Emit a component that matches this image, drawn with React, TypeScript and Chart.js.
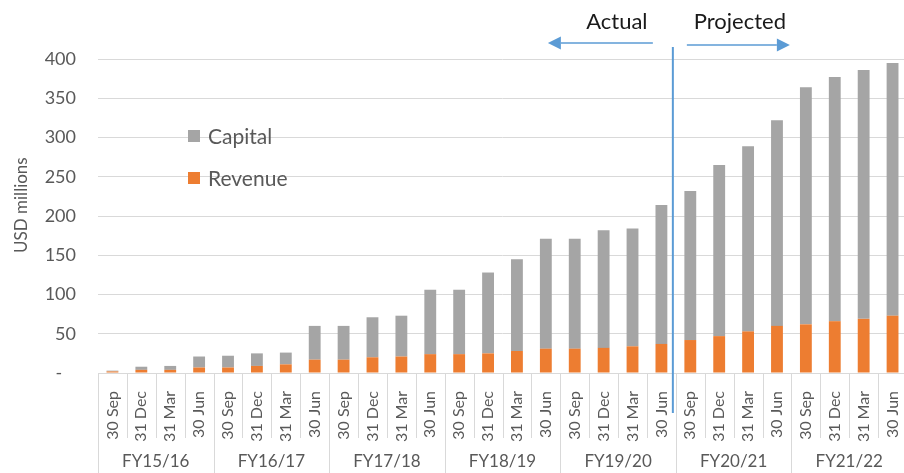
import React, { useEffect, useRef } from 'react';
import { Chart, registerables } from 'chart.js';

Chart.register(...registerables);

const quarters = ['30 Sep', '31 Dec', '31 Mar', '30 Jun'];
const fiscalYears = ['FY15/16', 'FY16/17', 'FY17/18', 'FY18/19', 'FY19/20', 'FY20/21', 'FY21/22'];
const categories = fiscalYears.flatMap(() => quarters);

const revenue = [2, 4, 4, 7, 7, 9, 11, 17, 17, 20, 21, 24, 24, 25, 28, 31, 31, 32, 34, 37, 42, 47, 53, 60, 62, 66, 69, 73];
const capital = [1, 4, 5, 14, 15, 16, 15, 43, 43, 51, 52, 82, 82, 103, 117, 140, 140, 150, 150, 177, 190, 218, 236, 262, 302, 311, 317, 322];

const yMin = 0;
const yMax = 400;
const yStep = 50;

const actualLabel = 'Actual';
const projectedLabel = 'Projected';
const lastActualIndex = 19;

const FONT = 'Lato, "Noto Sans", sans-serif';
const GREY = '#a5a5a5';
const ORANGE = '#ed7d31';
const BLUE = '#5b9bd5';
const TEXT = '#595959';
const GRID = '#d9d9d9';

const W = 907;
const H = 473;

export default function App() {
  const ref = useRef<HTMLCanvasElement>(null);

  useEffect(() => {
    const canvas = ref.current!;

    const overlay = {
      id: 'overlay',
      afterDatasetsDraw(chart: any) {
        const ctx = chart.ctx as CanvasRenderingContext2D;
        const xs = chart.scales.x;
        const area = chart.chartArea;
        const n = categories.length;
        const catW = (xs.right - xs.left) / n;
        ctx.save();

        // category separators
        ctx.strokeStyle = GRID;
        ctx.lineWidth = 1;
        for (let i = 0; i <= n; i++) {
          const x = Math.round(xs.left + i * catW) + 0.5;
          const long = i % quarters.length === 0;
          ctx.beginPath();
          ctx.moveTo(x, area.bottom);
          ctx.lineTo(x, long ? H : area.bottom + 65);
          ctx.stroke();
        }

        // fiscal year labels
        ctx.fillStyle = TEXT;
        ctx.font = `17px ${FONT}`;
        ctx.textAlign = 'center';
        ctx.textBaseline = 'middle';
        fiscalYears.forEach((fy, g) => {
          const cx = xs.left + (g * quarters.length + quarters.length / 2) * catW;
          ctx.fillText(fy, cx, area.bottom + 89);
        });

        // legend
        const legendItems = [
          { label: 'Capital', color: GREY },
          { label: 'Revenue', color: ORANGE },
        ];
        ctx.font = `21px ${FONT}`;
        ctx.textAlign = 'left';
        legendItems.forEach((it, k) => {
          const cy = area.top + 77 + k * 42;
          ctx.fillStyle = it.color;
          ctx.fillRect(area.left + 90, cy - 6, 12, 12);
          ctx.fillStyle = TEXT;
          ctx.fillText(it.label, area.left + 110, cy + 1);
        });

        // actual / projected divider
        const lineX = (xs.getPixelForValue(lastActualIndex) + xs.getPixelForValue(lastActualIndex + 1)) / 2 - 3;
        ctx.strokeStyle = BLUE;
        ctx.lineWidth = 2;
        ctx.beginPath();
        ctx.moveTo(lineX, area.top - 12);
        ctx.lineTo(lineX, area.bottom + 40);
        ctx.stroke();

        const arrow = (x0: number, x1: number, y: number) => {
          const dir = Math.sign(x1 - x0);
          const head = 13;
          ctx.strokeStyle = BLUE;
          ctx.fillStyle = BLUE;
          ctx.lineWidth = 1.5;
          ctx.beginPath();
          ctx.moveTo(x0, y);
          ctx.lineTo(x1 - dir * head, y);
          ctx.stroke();
          ctx.beginPath();
          ctx.moveTo(x1, y);
          ctx.lineTo(x1 - dir * head, y - 6.5);
          ctx.lineTo(x1 - dir * head, y + 6.5);
          ctx.closePath();
          ctx.fill();
        };
        arrow(lineX - 20, lineX - 125, area.top - 16);
        arrow(lineX + 14, lineX + 117, area.top - 14);

        ctx.fillStyle = '#1a1a1a';
        ctx.font = `22px ${FONT}`;
        ctx.textAlign = 'center';
        ctx.textBaseline = 'middle';
        ctx.fillText(actualLabel, lineX - 56, area.top - 37);
        ctx.fillText(projectedLabel, lineX + 67, area.top - 37);

        ctx.restore();
      },
    };

    const chart = new Chart(canvas, {
      type: 'bar',
      data: {
        labels: categories,
        datasets: [
          { label: 'Revenue', data: revenue, backgroundColor: ORANGE, stack: 's', barPercentage: 0.41, categoryPercentage: 1 },
          { label: 'Capital', data: capital, backgroundColor: GREY, stack: 's', barPercentage: 0.41, categoryPercentage: 1 },
        ],
      },
      options: {
        responsive: false,
        animation: false,
        layout: { padding: { top: 59, left: 0, right: 0, bottom: 0 } },
        plugins: {
          legend: { display: false },
          tooltip: { enabled: false },
        },
        scales: {
          x: {
            stacked: true,
            grid: { display: false },
            border: { display: true, color: GRID, width: 1 },
            ticks: {
              autoSkip: false,
              maxRotation: 90,
              minRotation: 90,
              padding: 10,
              color: TEXT,
              font: { family: FONT, size: 16 },
            },
            afterFit: (s: any) => { s.height = 100; s.paddingLeft = 0; s.paddingRight = 0; },
          },
          y: {
            stacked: true,
            min: yMin,
            max: yMax,
            border: { display: false },
            grid: { color: GRID, lineWidth: 1, drawTicks: false },
            ticks: {
              stepSize: yStep,
              padding: 22,
              color: TEXT,
              font: { family: FONT, size: 18 },
              callback: (v: any) => (Number(v) === 0 ? '-   ' : String(v)),
            },
            title: {
              display: true,
              text: '     USD millions',
              color: TEXT,
              font: { family: FONT, size: 17 },
              padding: { top: 11, bottom: 0 },
            },
            afterFit: (s: any) => { s.width = 98; s.paddingTop = 0; s.paddingBottom = 0; },
          },
        },
      },
      plugins: [overlay],
    });

    return () => chart.destroy();
  }, []);

  return (
    <div style={{ position: 'fixed', left: 0, top: 0, width: 904, height: 473, overflow: 'hidden', background: '#fff' }}>
      <canvas ref={ref} width={W} height={H} style={{ display: 'block', width: W, height: H }} />
    </div>
  );
}
